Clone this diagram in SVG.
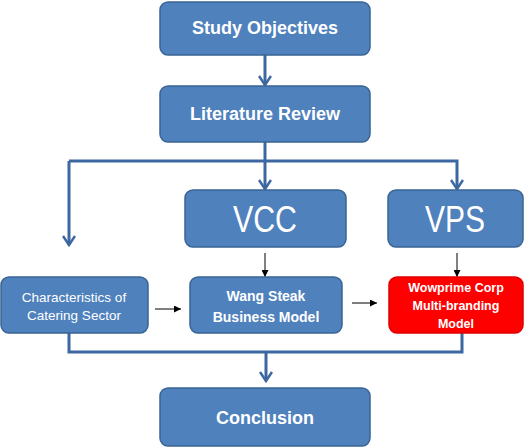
<svg xmlns="http://www.w3.org/2000/svg" width="529" height="448" viewBox="0 0 529 448">
<defs>
<style>
.box{fill:#4F81BD;stroke:#3A6493;stroke-width:1.5}
.red{fill:#FF0000;stroke:#E00000;stroke-width:1.5}
.t{font-family:"Liberation Sans",Arial,sans-serif;fill:#fff;text-anchor:middle}
.b{font-weight:bold}
.thick{stroke:#3C67A0;stroke-width:3;fill:none}
.thin{stroke:#000;stroke-width:1;fill:none}
</style>
<marker id="v" viewBox="0 0 12 14" refX="10" refY="7" markerWidth="12" markerHeight="14" markerUnits="userSpaceOnUse" orient="auto">
<path d="M1 1 L10 7 L1 13" fill="none" stroke="#3C67A0" stroke-width="2.5"/>
</marker>
<marker id="a" viewBox="0 0 8 8" refX="8" refY="4" markerWidth="7" markerHeight="7" markerUnits="userSpaceOnUse" orient="auto">
<path d="M0 0 L8 4 L0 8 Z" fill="#000"/>
</marker>
</defs>
<g id="connectors">
<path class="thick" d="M265 55 V85" marker-end="url(#v)"/>
<path class="thick" d="M265 142 V189" marker-end="url(#v)"/>
<path class="thick" d="M69 161 H457 V189" marker-end="url(#v)"/>
<path class="thick" d="M69 161 V245" marker-end="url(#v)"/>
<path class="thin" d="M265 253 V277" marker-end="url(#a)"/>
<path class="thin" d="M457 253 V277" marker-end="url(#a)"/>
<path class="thin" d="M155 309 H181" marker-end="url(#a)"/>
<path class="thin" d="M352 303 H377" marker-end="url(#a)"/>
<path class="thick" d="M69 333 V352 H462 V333"/>
<path class="thick" d="M266 352 V381" marker-end="url(#v)"/>
</g>
<g id="study-objectives">
<rect class="box" x="160" y="2" width="210" height="53" rx="8"/>
<text class="t b" x="265" y="34" font-size="18">Study Objectives</text>
</g>
<g id="literature-review">
<rect class="box" x="160" y="86" width="210" height="56" rx="8"/>
<text class="t b" x="265" y="120" font-size="18">Literature Review</text>
</g>
<g id="vcc">
<rect class="box" x="185" y="190" width="161" height="57" rx="8"/>
<text class="t" x="265" y="232" font-size="37" textLength="64" lengthAdjust="spacingAndGlyphs">VCC</text>
</g>
<g id="vps">
<rect class="box" x="388" y="190" width="135" height="57" rx="8"/>
<text class="t" x="455" y="232" font-size="37" textLength="60" lengthAdjust="spacingAndGlyphs">VPS</text>
</g>
<g id="characteristics">
<rect class="box" x="1" y="277" width="147" height="56" rx="8"/>
<text class="t" x="74" y="302" font-size="13.5">Characteristics of</text>
<text class="t" x="74" y="320" font-size="13.5">Catering Sector</text>
</g>
<g id="wang-steak">
<rect class="box" x="190" y="277" width="152" height="56" rx="8"/>
<text class="t b" x="266" y="301" font-size="14">Wang Steak</text>
<text class="t b" x="266" y="322" font-size="14">Business Model</text>
</g>
<g id="wowprime">
<rect class="red" x="389" y="277" width="134" height="56" rx="8"/>
<text class="t b" x="456" y="292" font-size="12.5">Wowprime Corp</text>
<text class="t b" x="456" y="310" font-size="12.5">Multi-branding</text>
<text class="t b" x="456" y="328" font-size="12.5">Model</text>
</g>
<g id="conclusion">
<rect class="box" x="160" y="388" width="210" height="58" rx="8"/>
<text class="t b" x="265" y="424" font-size="18">Conclusion</text>
</g>
</svg>
